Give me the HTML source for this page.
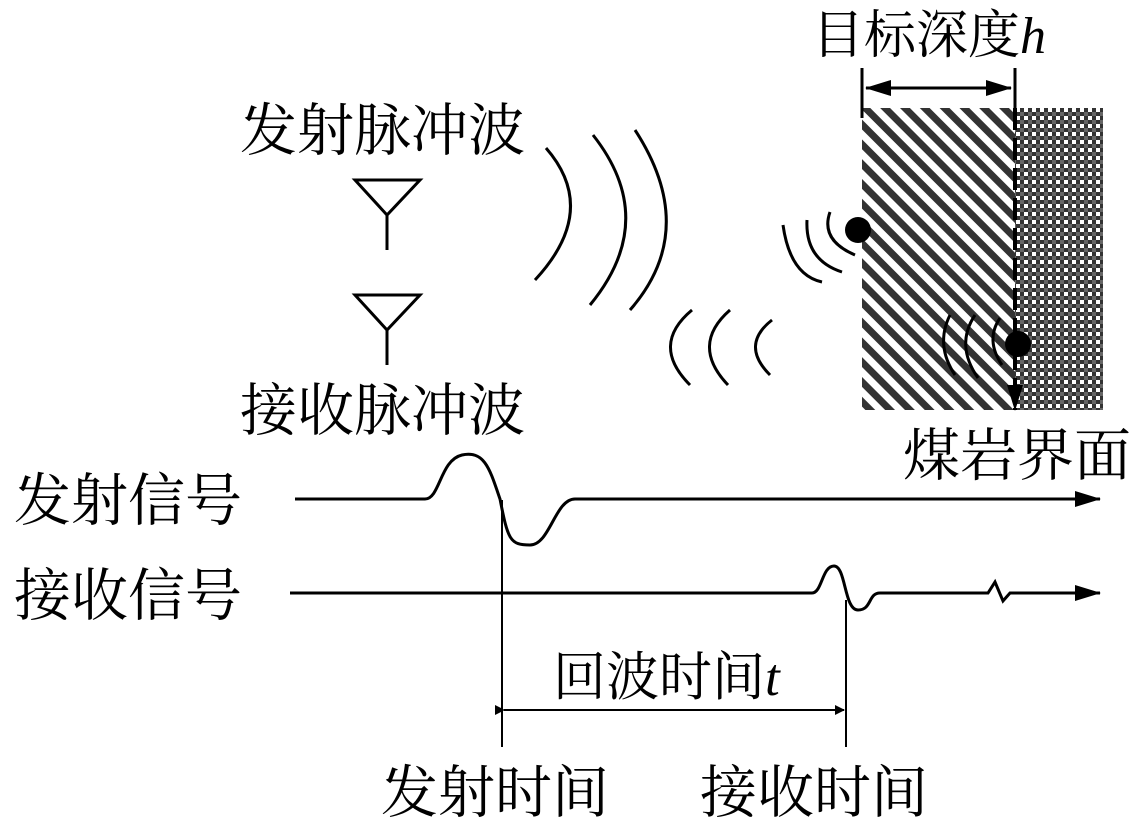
<!DOCTYPE html>
<html><head><meta charset="utf-8"><style>
body{margin:0;background:#fff;width:1143px;height:821px;overflow:hidden}
svg text{font-family:"Liberation Serif","Noto Serif CJK SC","Noto Sans CJK SC",serif;fill:#000}
</style></head><body>
<svg width="1143" height="821" viewBox="0 0 1143 821" xmlns="http://www.w3.org/2000/svg">
<defs>
<pattern id="st" width="14" height="14" patternUnits="userSpaceOnUse" patternTransform="rotate(-45)">
<rect width="14" height="14" fill="#fff"/><rect width="7" height="14" fill="#333"/>
</pattern>
<pattern id="ck" width="8" height="8" patternUnits="userSpaceOnUse">
<rect width="8" height="8" fill="#fff"/><rect width="4" height="4" fill="#333"/><rect x="4" y="4" width="4" height="4" fill="#333"/><rect x="4" y="0" width="4" height="4" fill="#666"/>
</pattern>
<marker id="ar" markerWidth="10" markerHeight="10" refX="9" refY="5" orient="auto" markerUnits="userSpaceOnUse"><path d="M0,0 L10,5 L0,10Z" fill="#000"/></marker>
<marker id="arB" markerWidth="26" markerHeight="16" refX="25" refY="8" orient="auto" markerUnits="userSpaceOnUse"><path d="M0,0 L26,8 L0,16Z" fill="#000"/></marker>
<marker id="arBs" markerWidth="26" markerHeight="16" refX="1" refY="8" orient="auto" markerUnits="userSpaceOnUse"><path d="M26,0 L0,8 L26,16Z" fill="#000"/></marker>
</defs>
<rect x="862" y="108" width="153" height="302" fill="url(#st)"/>
<rect x="1015" y="108" width="88" height="302" fill="url(#ck)"/>
<g stroke="#000" fill="none" stroke-width="3">
<line x1="862" y1="68" x2="862" y2="118"/>
<line x1="1015" y1="68" x2="1015" y2="108"/>
<line x1="866" y1="88" x2="1011" y2="88" marker-end="url(#arB)" marker-start="url(#arBs)"/>
<line x1="1015" y1="108" x2="1015" y2="410" stroke-dasharray="22,8" stroke-width="4" marker-end="url(#arB)"/>
<path d="M355,180 L420,180 L387,215 Z M387,215 L387,250"/>
<path d="M355,295 L420,295 L387,330 Z M387,330 L387,365"/>
<path d="M546,148 Q600,210 535,280"/>
<path d="M593,135 Q660,220 590,305"/>
<path d="M635,130 Q700,230 630,310"/>
<path d="M692,310 Q650,345 690,385"/>
<path d="M730,310 Q690,345 728,385"/>
<path d="M772,320 Q740,345 770,375"/>
<path d="M830,212 Q820,240 855,255"/>
<path d="M807,220 Q805,260 842,272"/>
<path d="M783,225 Q790,275 822,282"/>
<path d="M1000,318 Q985,340 1002,365"/>
<path d="M975,315 Q955,345 978,378"/>
<path d="M950,315 Q935,345 955,375"/>
</g>
<circle cx="858" cy="230" r="13" fill="#000"/>
<circle cx="1018" cy="344" r="13" fill="#000"/>
<g stroke="#000" fill="none">
<path stroke-width="3" d="M295,499 L425,499 C440,499 440,460 462,455 C485,450 490,470 500,499 C508,540 510,545 530,545 C550,545 555,499 575,499 L1100,499" marker-end="url(#arB)"/>
<path stroke-width="3" d="M290,593 L812,593 C822,593 822,566 834,566 C846,566 844,610 858,610 C872,610 868,593 880,593 L988,593 L995,582 L1003,601 L1010,593 L1100,593" marker-end="url(#arB)"/>
<line x1="502" y1="500" x2="502" y2="747" stroke-width="2"/>
<line x1="846" y1="600" x2="846" y2="747" stroke-width="2"/>
<line x1="504" y1="710" x2="844" y2="710" stroke-width="2" marker-end="url(#ar)" marker-start="url(#ar)"/>
</g>
<g font-size="57">
<text x="812" y="53" font-size="52">目标深度<tspan font-style="italic">h</tspan></text>
<text x="240" y="150">发射脉冲波</text>
<text x="240" y="430">接收脉冲波</text>
<text x="903" y="475">煤岩界面</text>
<text x="14" y="520">发射信号</text>
<text x="14" y="615">接收信号</text>
<text x="553" y="695" font-size="53">回波时间<tspan font-style="italic">t</tspan></text>
<text x="381" y="812">发射时间</text>
<text x="700" y="812">接收时间</text>
</g>
</svg>
</body></html>
